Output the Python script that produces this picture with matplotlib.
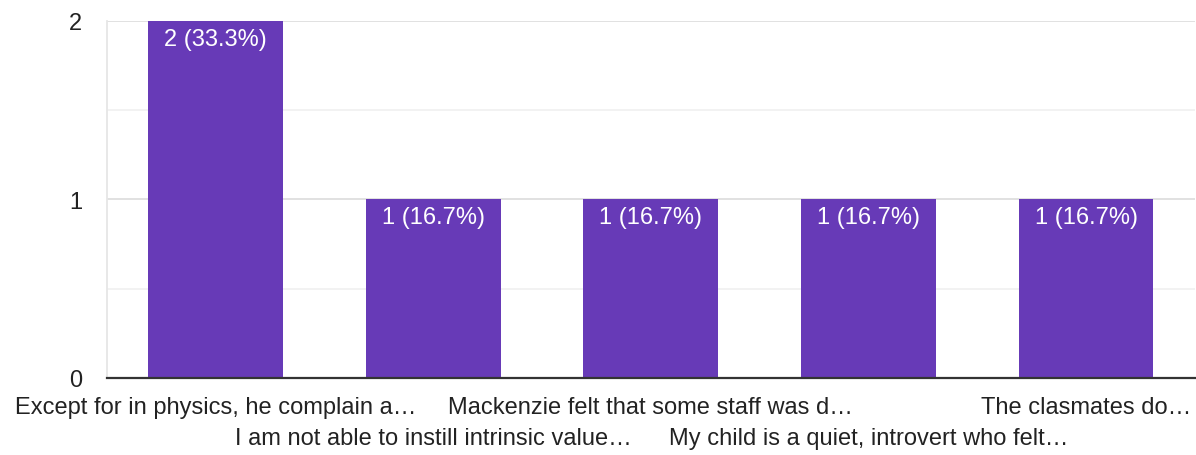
import matplotlib.pyplot as plt

plt.rcParams['font.family'] = ['Liberation Sans', 'DejaVu Sans']

# данные
answers = [
    'Except for in physics, he complain a…',
    'I am not able to instill intrinsic value…',
    'Mackenzie felt that some staff was d…',
    'My child is a quiet, introvert who felt…',
    'The clasmates do…',
]
counts = [2, 1, 1, 1, 1]
percents = [33.3, 16.7, 16.7, 16.7, 16.7]

fig = plt.figure(figsize=(11.96, 4.56), dpi=100)
ax = fig.add_axes([0.0895, 0.169, 0.9095, 0.783])

x = range(len(answers))
bars = ax.bar(x, counts, width=0.62, color='#673ab7', zorder=3)

# подписи внутри столбцов
for b, c, p in zip(bars, counts, percents):
    ax.annotate(f'{c} ({p}%)', (b.get_x() + b.get_width() / 2, b.get_height()),
                xytext=(0, -5), textcoords='offset points',
                ha='center', va='top', color='white', fontsize=17, zorder=4)

ax.set_xlim(-0.5, len(answers) - 0.5)
ax.set_ylim(0, 2)
ax.set_yticks([0, 1, 2])
ax.set_yticks([0.5, 1.5], minor=True)
ax.grid(axis='y', which='major', color='#dedede', lw=1.3, zorder=0)
ax.grid(axis='y', which='minor', color='#efefef', lw=1.1, zorder=0)
ax.tick_params(axis='y', which='both', length=0, labelsize=17, labelcolor='#222222', pad=18)

ax.set_xticks(list(x))
ax.set_xticklabels(answers, fontsize=17, color='#222222')
ax.tick_params(axis='x', length=0)
for i, t in enumerate(ax.xaxis.get_major_ticks()):
    t.set_pad(13 if i % 2 == 0 else 35)

for s in ['top', 'right']:
    ax.spines[s].set_visible(False)
ax.spines['left'].set_color('#e6e6e6')
ax.spines['left'].set_linewidth(1.3)
ax.spines['bottom'].set_color('#333333')
ax.spines['bottom'].set_linewidth(1.6)
ax.spines['bottom'].set_zorder(5)

fig.savefig('out.png', dpi=100)
